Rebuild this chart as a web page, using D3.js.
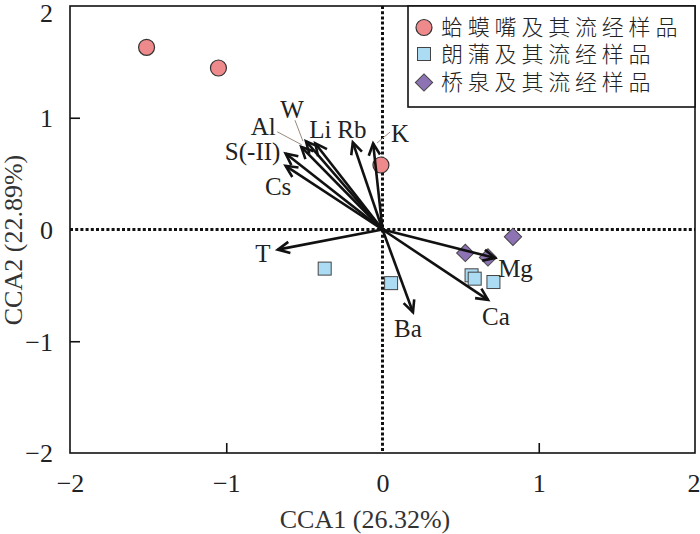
<!DOCTYPE html>
<html><head><meta charset="utf-8">
<script src="https://cdn.jsdelivr.net/npm/d3@7"></script>
<style>body{margin:0;background:#fff}svg{display:block}</style>
</head><body><svg id="c" width="700" height="534"></svg>
<script>
// Sample scores
const siteA_x = [-1.51, -1.05, -0.01];
const siteA_y = [1.63, 1.445, 0.577];
const siteB_x = [-0.37, 0.055, 0.57, 0.59, 0.71];
const siteB_y = [-0.35, -0.48, -0.41, -0.44, -0.47];
const siteC_x = [0.53, 0.675, 0.835];
const siteC_y = [-0.21, -0.25, -0.065];
// Environmental vectors
const envNames = ["T", "Cs", "S(-II)", "Al", "W", "Li", "Rb", "K", "Ba", "Ca", "Mg"];
const envX = [-0.67, -0.62, -0.62, -0.52, -0.49, -0.43, -0.19, -0.06, 0.195, 0.675, 0.72];
const envY = [-0.18, 0.57, 0.68, 0.74, 0.79, 0.77, 0.78, 0.77, -0.74, -0.63, -0.255];
const ticks = [-2, -1, 0, 1, 2];
const legendLabels = ["蛤蟆嘴及其流经样品", "朗蒲及其流经样品", "桥泉及其流经样品"];
const xTitle = "CCA1 (26.32%)";
const yTitle = "CCA2 (22.89%)";

// label placement (pixel offsets of label centre/baseline from arrow tip) — layout only
const labelOff = {"T":[-15,12.5],"Cs":[-7.5,29],"S(-II)":[-33,6.5],"Al":[-38,-12],"W":[-14,-23],"Li":[5,-5.5],"Rb":[-1,-4.5],"K":[27,-1.5],"Ba":[-5,25],"Ca":[8,25],"Mg":[20.5,19]};
const leaders = {"Al":[[-24,-15],[0.5,-2]], "W":[[-11,-21],[-3,0]], "K":[[17,-11.5],[4,-0.5]]};

const svg = d3.select("#c");
const L=70,R=695,T=6,B=453;
const x = d3.scaleLinear().domain([-2,2]).range([L,R]);
const y = d3.scaleLinear().domain([-2,2]).range([B,T]);
const serif = "'Liberation Serif','Times New Roman',serif";
const FS = 26;

// frame
svg.append("rect").attr("x",L).attr("y",T).attr("width",R-L).attr("height",B-T)
  .attr("fill","none").attr("stroke","#111").attr("stroke-width",1.6);

// axes ticks (inward)
const fmt = d=>d<0?"\u2212"+Math.abs(d):d;
const gx = svg.append("g").attr("transform",`translate(0,${B})`)
  .call(d3.axisBottom(x).tickValues(ticks).tickSize(-10).tickPadding(21).tickFormat(fmt));
const gy = svg.append("g").attr("transform",`translate(${L},0)`)
  .call(d3.axisLeft(y).tickValues(ticks).tickSize(-10).tickPadding(17).tickFormat(fmt));
[gx,gy].forEach(g=>{
  g.select(".domain").remove();
  g.selectAll(".tick line").attr("stroke","#111").attr("stroke-width",1.6)
    .filter(d=>d===0||Math.abs(d)===2).remove();
  g.selectAll("text").attr("font-family",serif).attr("font-size",FS).attr("fill","#222");
});
gy.selectAll(".tick text").attr("dy","0.34em");
gy.selectAll(".tick").filter(d=>d===2).select("text").attr("dy","0.6em");
gx.selectAll(".tick").filter(d=>d===2).select("text").attr("text-anchor","end").attr("x",5);

// zero lines dotted
svg.append("line").attr("x1",x(0)).attr("x2",x(0)).attr("y1",T).attr("y2",B)
  .attr("stroke","#111").attr("stroke-width",3).attr("stroke-dasharray","3,2.2");
svg.append("line").attr("x1",L).attr("x2",R).attr("y1",y(0)).attr("y2",y(0))
  .attr("stroke","#111").attr("stroke-width",3).attr("stroke-dasharray","3,2.2");

// axis titles
svg.append("text").attr("x",365).attr("y",528).attr("text-anchor","middle")
  .attr("font-family",serif).attr("font-size",FS).attr("fill","#333").text(xTitle);
svg.append("text").attr("transform",`translate(22,240) rotate(-90)`).attr("text-anchor","middle")
  .attr("font-family",serif).attr("font-size",FS).attr("fill","#333").text(yTitle);

// points
const cA="#ee8a8c", cB="#abdcf3", cC="#8d72b4";
const ga = svg.append("g");
siteA_x.forEach((v,i)=>{
  ga.append("circle").attr("cx",x(v)).attr("cy",y(siteA_y[i])).attr("r",8)
    .attr("fill",cA).attr("stroke","#333").attr("stroke-width",1.2);
});
siteB_x.forEach((v,i)=>{
  ga.append("rect").attr("x",x(v)-6.5).attr("y",y(siteB_y[i])-6.5).attr("width",13).attr("height",13)
    .attr("fill",cB).attr("stroke","#444").attr("stroke-width",1);
});
siteC_x.forEach((v,i)=>{
  ga.append("path").attr("d",d3.symbol(d3.symbolSquare,150)())
    .attr("transform",`translate(${x(v)},${y(siteC_y[i])}) rotate(45)`)
    .attr("fill",cC).attr("stroke","#444").attr("stroke-width",1);
});

// arrows
const ge = svg.append("g");
envNames.forEach((n,i)=>{
  const x0=x(0),y0=y(0),x1=x(envX[i]),y1=y(envY[i]);
  const ang=Math.atan2(y1-y0,x1-x0);
  const hl=13, ha=0.45;
  ge.append("line").attr("x1",x0).attr("y1",y0).attr("x2",x1).attr("y2",y1)
    .attr("stroke","#111").attr("stroke-width",2.6);
  const p1=[x1-hl*Math.cos(ang-ha), y1-hl*Math.sin(ang-ha)];
  const p2=[x1-hl*Math.cos(ang+ha), y1-hl*Math.sin(ang+ha)];
  ge.append("path").attr("d",`M${p1}L${x1},${y1}L${p2}`).attr("fill","none")
    .attr("stroke","#111").attr("stroke-width",2.6).attr("stroke-linejoin","miter");
  const o=labelOff[n];
  if(leaders[n]){
    const l=leaders[n];
    ge.append("line").attr("x1",x1+l[0][0]).attr("y1",y1+l[0][1]).attr("x2",x1+l[1][0]).attr("y2",y1+l[1][1])
      .attr("stroke","#9a8a80").attr("stroke-width",1);
  }
  ge.append("text").attr("x",x1+o[0]).attr("y",y1+o[1]).attr("text-anchor","middle")
    .attr("font-family",serif).attr("font-size",25).attr("fill","#222").text(n);
});

// legend
const lg = svg.append("g");
lg.append("rect").attr("x",408).attr("y",T).attr("width",R-408).attr("height",101)
  .attr("fill","#fff").attr("stroke","#111").attr("stroke-width",1.6);
const ly=[27.5,54,82.5];
lg.append("circle").attr("cx",424).attr("cy",ly[0]).attr("r",8).attr("fill",cA).attr("stroke","#333").attr("stroke-width",1.2);
lg.append("rect").attr("x",417.5).attr("y",ly[1]-6.5).attr("width",13).attr("height",13).attr("fill",cB).attr("stroke","#444");
lg.append("path").attr("d",d3.symbol(d3.symbolSquare,150)()).attr("transform",`translate(424,${ly[2]}) rotate(45)`)
  .attr("fill",cC).attr("stroke","#444");
legendLabels.forEach((t,i)=>{
  lg.append("text").attr("x",441).attr("y",ly[i]).attr("dy","0.36em")
    .attr("font-family","'Noto Sans CJK SC'").attr("font-weight",300).attr("font-size",22)
    .attr("letter-spacing",4.8).attr("fill","#222").text(t);
});
</script></body></html>
